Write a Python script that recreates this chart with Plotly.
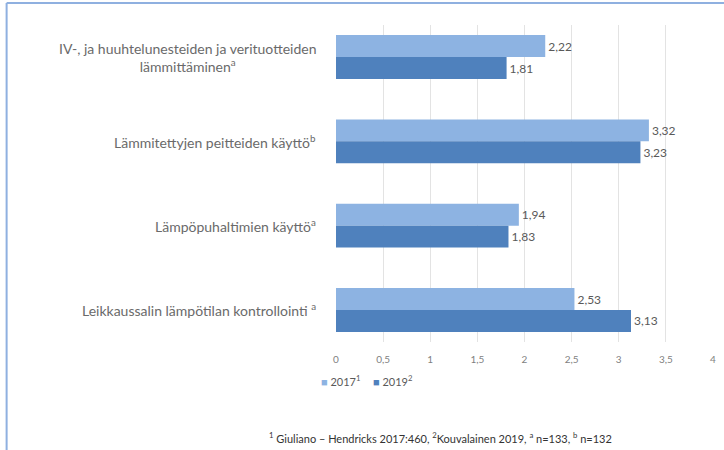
import plotly.graph_objects as go

categories = [
    "IV-, ja huuhtelunesteiden ja verituotteiden<br>lämmittäminen<sup>a</sup>",
    "Lämmitettyjen peitteiden käyttö<sup>b</sup>",
    "Lämpöpuhaltimien käyttö<sup>a</sup>",
    "Leikkaussalin lämpötilan kontrollointi <sup>a</sup>",
]
values_2017 = [2.22, 3.32, 1.94, 2.53]
values_2019 = [1.81, 3.23, 1.83, 3.13]
series_names = ["2017<sup>1</sup>", "2019<sup>2</sup>"]
tick_vals = [0, 0.5, 1, 1.5, 2, 2.5, 3, 3.5, 4]
footnote = "<sup>1</sup> Giuliano – Hendricks 2017:460, <sup>2</sup>Kouvalainen 2019, <sup>a</sup> n=133, <sup>b</sup> n=132"

c17 = "#8db3e2"
c19 = "#4f81bd"
gray = "#595959"
colors = [c17, c19]

fig = go.Figure()
for name, vals, col in [(series_names[0], values_2017, c17), (series_names[1], values_2019, c19)]:
    fig.add_trace(go.Bar(
        y=list(range(len(categories))), x=vals, orientation="h", name=name,
        marker=dict(color=col, line=dict(width=0)),
        text=vals, texttemplate="%{x:.2f}", textposition="outside",
        textfont=dict(size=12, color=gray, family="Lato"), cliponaxis=False,
        showlegend=False,
    ))

annotations = []
for i, c in enumerate(categories):
    annotations.append(dict(
        x=-0.047, xref="paper", y=i, yref="y", text=c, showarrow=False,
        xanchor="right", yanchor="middle", align="center",
        font=dict(size=14, color="#6a6a6a", family="Lato"),
    ))
# legend drawn as compact text entries
legend_x = [-0.045, 0.092]
for name, col, lx in zip(series_names, colors, legend_x):
    annotations.append(dict(
        x=lx, xref="paper", y=-0.12, yref="paper", showarrow=False,
        xanchor="left", yanchor="middle",
        text=f"<span style='color:{col}'>■</span> {name}",
        font=dict(size=11, color=gray, family="Lato"),
    ))
annotations.append(dict(
    x=0.276, xref="paper", y=-0.30, yref="paper", text=footnote, showarrow=False,
    xanchor="center", yanchor="middle", font=dict(size=11, color="#333333", family="Lato"),
))

fig.update_layout(
    width=724, height=450,
    margin=dict(l=336, r=8, t=25, b=108),
    paper_bgcolor="white", plot_bgcolor="white",
    barmode="group", bargap=0.48, bargroupgap=0,
    separators=", ",
    font=dict(family="Lato", color=gray),
    showlegend=False,
    annotations=annotations,
    shapes=[
        dict(type="line", xref="paper", yref="paper", x0=-0.8737, x1=1.03, y0=1.0694, y1=1.0694,
             line=dict(color="#8fb0e0", width=2)),
        dict(type="line", xref="paper", yref="paper", x0=-0.8737, x1=-0.8737, y0=1.0694, y1=-0.36,
             line=dict(color="#8fb0e0", width=2)),
    ],
)
fig.update_xaxes(range=[0, 4], tickvals=tick_vals, tickformat=".1~f",
                 showgrid=True, gridcolor="#e3e3e3", gridwidth=1,
                 zeroline=False, showline=False, ticks="",
                 tickfont=dict(size=10, color="#7f7f7f", family="Lato"),
                 ticklabelstandoff=10, fixedrange=True)
fig.update_yaxes(range=[3.38, -0.38], showticklabels=False, showgrid=False,
                 zeroline=False, showline=False, ticks="", fixedrange=True)

fig.write_html("out.html")
